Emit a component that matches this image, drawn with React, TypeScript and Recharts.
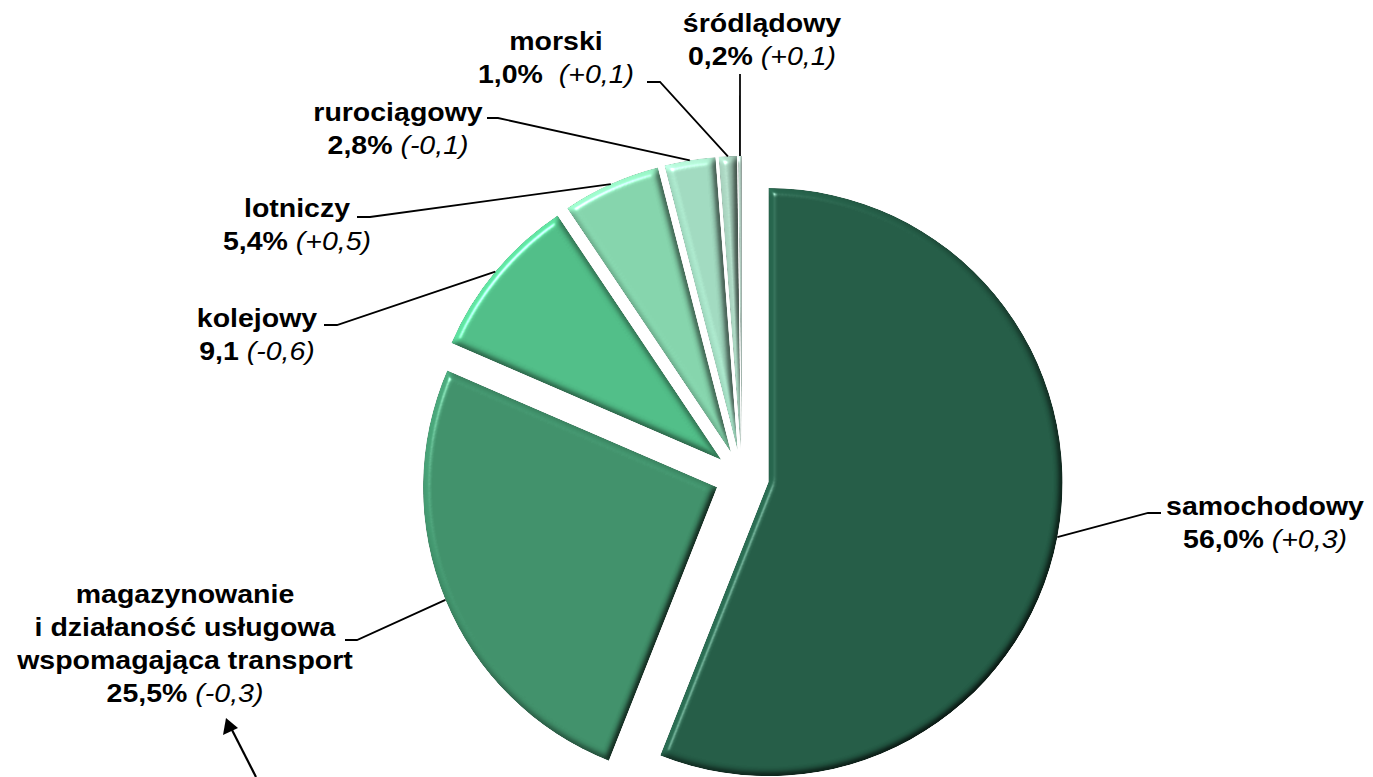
import React from 'react';
import { PieChart, Pie, Cell, Sector, Tooltip } from 'recharts';

// ---- data ----
const categories = [
  'samochodowy',
  'magazynowanie i działaność usługowa wspomagająca transport',
  'kolejowy',
  'lotniczy',
  'rurociągowy',
  'morski',
  'śródlądowy',
];
const categoryLines = [
  ['samochodowy'],
  ['magazynowanie', 'i działaność usługowa', 'wspomagająca transport'],
  ['kolejowy'],
  ['lotniczy'],
  ['rurociągowy'],
  ['morski'],
  ['śródlądowy'],
];
const shares = [56.0, 25.5, 9.1, 5.4, 2.8, 1.0, 0.2];
const shareLabels = ['56,0%', '25,5%', '9,1', '5,4%', '2,8%', '1,0% ', '0,2%'];
const changeLabels = ['(+0,3)', '(-0,3)', '(-0,6)', '(+0,5)', '(-0,1)', '(+0,1)', '(+0,1)'];

// ---- styles / layout ----
const COLORS = ['#245C46', '#40906A', '#50BD87', '#84D3AB', '#A0D9BF', '#9EC6B3', '#AFCABE'];
const W = 1373;
const H = 777;
const CX = 742;
const CY = 477;
const R = 294;
const EXPLODE = 27;
const FONT = 'Liberation Sans, Arial, Helvetica, sans-serif';
const FS = 25;
const LINE_H = 33;
const SX = 1.14;

const LABEL_LAYOUT = [
  { x: 1265, y: 515, path: [[1148, 513], [1161, 513]] },
  { x: 185, y: 603, path: [[357, 640], [345, 640]] },
  { x: 257, y: 327, path: [[337, 325], [324, 325]] },
  { x: 297, y: 217, path: [[370, 217], [357, 217]] },
  { x: 398, y: 121, path: [[498, 118], [487, 118]] },
  { x: 556, y: 50, path: [[660, 82], [647, 82]] },
  { x: 762, y: 32, path: [[740, 74]] },
];

const data = categories.map((name, i) => ({ name, value: shares[i] }));

const RAD = Math.PI / 180;

const renderSector = (props: any) => {
  const { cx, cy, midAngle, index } = props;
  const dx = EXPLODE * Math.cos(-midAngle * RAD);
  const dy = EXPLODE * Math.sin(-midAngle * RAD);
  return (
    <Sector
      cx={cx + dx}
      cy={cy + dy}
      innerRadius={props.innerRadius}
      outerRadius={props.outerRadius}
      startAngle={props.startAngle}
      endAngle={props.endAngle}
      fill={COLORS[index] ?? props.fill}
      stroke="none"
      filter="url(#bevel)"
    />
  );
};

const renderLabel = (props: any) => {
  const { cx, cy, midAngle, outerRadius, index } = props;
  const layout = LABEL_LAYOUT[index];
  const r = outerRadius + EXPLODE;
  const ax = cx + r * Math.cos(-midAngle * RAD);
  const ay = cy + r * Math.sin(-midAngle * RAD);
  const pts = [[ax, ay], ...layout.path].map((p) => p.join(',')).join(' ');
  const lines = categoryLines[index];
  return (
    <g key={`lbl-${index}`}>
      <polyline points={pts} fill="none" stroke="#000" strokeWidth={1.8} />
      <g transform={`translate(${layout.x} ${layout.y}) scale(${SX} 1)`}>
        <text
          x={0}
          y={0}
          textAnchor="middle"
          fontFamily={FONT}
          fontSize={FS}
          fill="#000"
          style={{ whiteSpace: 'pre' }}
        >
          {lines.map((ln, k) => (
            <tspan key={k} x={0} y={k * LINE_H} fontWeight="bold">
              {ln}
            </tspan>
          ))}
          <tspan x={0} y={lines.length * LINE_H} fontWeight="bold">
            {shareLabels[index] + ' '}
          </tspan>
          <tspan fontStyle="italic" fontWeight="normal">
            {changeLabels[index]}
          </tspan>
        </text>
      </g>
    </g>
  );
};

export default function App() {
  return (
    <div style={{ position: 'absolute', left: 0, top: 0, width: W, height: H, background: '#fff' }}>
      <svg width={0} height={0} style={{ position: 'absolute' }}>
        <defs>
          <filter id="bevel" x="-5%" y="-5%" width="110%" height="110%" colorInterpolationFilters="sRGB">
            <feGaussianBlur in="SourceAlpha" stdDeviation="3.5" result="blur" />
            <feDiffuseLighting in="blur" surfaceScale="4" diffuseConstant="1" lightingColor="#ffffff" result="diff">
              <feDistantLight azimuth={225} elevation={55} />
            </feDiffuseLighting>
            <feComposite in="SourceGraphic" in2="diff" operator="arithmetic" k1={1.22} k2={0} k3={0} k4={0} result="shaded" />
            <feSpecularLighting in="blur" surfaceScale="4" specularConstant="0.5" specularExponent="90" lightingColor="#ffffff" result="spec">
              <feDistantLight azimuth={225} elevation={55} />
            </feSpecularLighting>
            <feComposite in="spec" in2="SourceAlpha" operator="in" result="specIn" />
            <feComposite in="shaded" in2="specIn" operator="arithmetic" k1={0} k2={1} k3={1} k4={0} result="lit" />
            <feComposite in="lit" in2="SourceAlpha" operator="in" />
          </filter>
        </defs>
      </svg>
      <PieChart width={W} height={H} margin={{ top: 0, right: 0, bottom: 0, left: 0 }}>
        <Pie
          data={data}
          dataKey="value"
          nameKey="name"
          cx={CX}
          cy={CY}
          outerRadius={R}
          startAngle={90}
          endAngle={-270}
          stroke="none"
          isAnimationActive={false}
          label={renderLabel}
          labelLine={false}
          shape={renderSector}
          activeShape={renderSector}
          inactiveShape={renderSector}
        >
          {data.map((d, i) => (
            <Cell key={d.name} fill={COLORS[i]} />
          ))}
        </Pie>
        <Tooltip defaultIndex={0} content={() => null} cursor={false} />
      </PieChart>
      <svg width={W} height={H} style={{ position: 'absolute', left: 0, top: 0, pointerEvents: 'none' }}>
        <line x1={256} y1={777} x2={231} y2={728} stroke="#000" strokeWidth={2.2} />
        <polygon points="226,718 223,735 238,728" fill="#000" />
      </svg>
    </div>
  );
}
